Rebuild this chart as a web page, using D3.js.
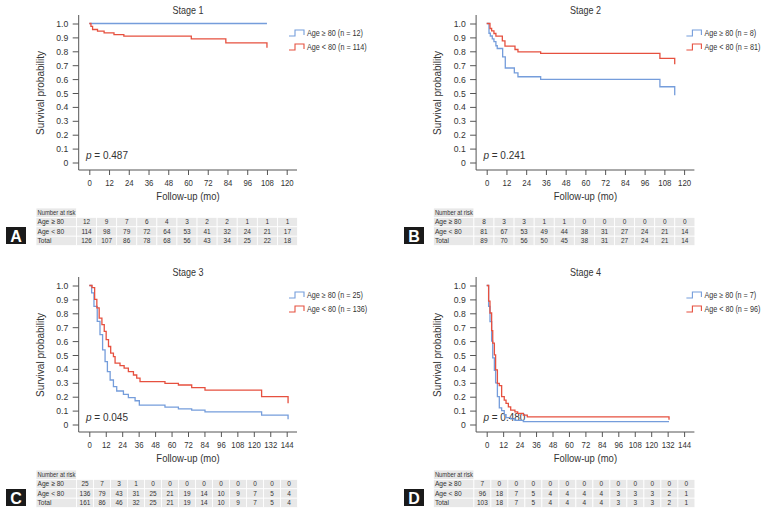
<!DOCTYPE html>
<html>
<head>
    <script src="https://d3js.org/d3.v7.min.js"></script>
    <style>
        body { margin: 0; background: #fff; }
        text { font-family: "Liberation Sans", Arial, sans-serif; fill: #333; }
    </style>
</head>
<body>
    <svg width="773" height="514"></svg>
    <script>
        // tick labels
        var xTicks120 = [0, 12, 24, 36, 48, 60, 72, 84, 96, 108, 120];
        var xTicks144 = [0, 12, 24, 36, 48, 60, 72, 84, 96, 108, 120, 132, 144];
        var yTicks = [0, 0.1, 0.2, 0.3, 0.4, 0.5, 0.6, 0.7, 0.8, 0.9, 1.0];
        var rowLabels = ["Age \u2265 80", "Age < 80", "Total"];

        // Kaplan-Meier steps: event times, survival after event, last follow-up
        var s1OldT = [], s1OldS = [], s1OldEnd = 108;
        var s1YoungT = [1, 2, 5, 9, 15, 21, 62, 83, 108];
        var s1YoungS = [0.98, 0.957, 0.945, 0.932, 0.92, 0.909, 0.89, 0.861, 0.825], s1YoungEnd = 108;

        var s2OldT = [1.4, 2.2, 3.4, 4.4, 5.6, 6.4, 9.7, 11.3, 16.8, 19, 32.8, 105.3, 114.3];
        var s2OldS = [0.93, 0.91, 0.89, 0.87, 0.84, 0.82, 0.76, 0.68, 0.645, 0.617, 0.598, 0.545, 0.483], s2OldEnd = 114.3;
        var s2YoungT = [2, 3, 4.4, 5.6, 9.5, 11.1, 17.2, 19, 32.8, 105.3, 114.3];
        var s2YoungS = [0.964, 0.947, 0.928, 0.909, 0.875, 0.837, 0.813, 0.796, 0.785, 0.749, 0.706], s2YoungEnd = 114.3;

        var s3OldT = [1.7, 3.4, 5.8, 7.8, 9.7, 11.5, 13.2, 15.2, 17.6, 20, 24.9, 28.5, 33.4, 36.5, 55.2, 65, 74.7, 84.4, 125.7, 145];
        var s3OldS = [0.947, 0.85, 0.742, 0.646, 0.537, 0.453, 0.38, 0.32, 0.272, 0.241, 0.217, 0.193, 0.171, 0.14, 0.125, 0.113, 0.103, 0.091, 0.067, 0.038], s3OldEnd = 145;
        var s3YoungT = [2, 3.9, 5.5, 7.2, 9.2, 10.9, 12.3, 14, 15.6, 17.6, 18.8, 22.4, 25.4, 28.5, 32.2, 34.6, 37, 55.2, 65, 74.7, 84.4, 125.7, 145];
        var s3YoungS = [0.984, 0.9, 0.839, 0.766, 0.718, 0.67, 0.61, 0.561, 0.513, 0.489, 0.441, 0.424, 0.405, 0.38, 0.356, 0.333, 0.308, 0.296, 0.284, 0.265, 0.248, 0.2, 0.152], s3YoungEnd = 145;

        var s4OldT = [1.4, 2.4, 3.6, 4.4, 5.6, 6.5, 7.8, 9.2, 10.9, 12.8, 14.1, 17.5, 20.6, 26.7];
        var s4OldS = [0.85, 0.74, 0.6, 0.48, 0.39, 0.3, 0.2, 0.12, 0.1, 0.07, 0.05, 0.04, 0.03, 0.02], s4OldEnd = 133;
        var s4YoungT = [1.4, 2.4, 3.6, 4.4, 5.6, 6.5, 7.8, 9.2, 10.9, 12.8, 14.1, 15.8, 17.5, 20.6, 22.6, 26.7, 29.6, 133];
        var s4YoungS = [0.887, 0.802, 0.675, 0.585, 0.501, 0.393, 0.296, 0.279, 0.2, 0.176, 0.152, 0.127, 0.103, 0.091, 0.08, 0.067, 0.055, 0.035], s4YoungEnd = 133;

        // number at risk
        var risk1 = [[12, 9, 7, 6, 4, 3, 2, 2, 1, 1, 1],
                     [114, 98, 79, 72, 64, 53, 41, 32, 24, 21, 17],
                     [126, 107, 86, 78, 68, 56, 43, 34, 25, 22, 18]];
        var risk2 = [[8, 3, 3, 1, 1, 0, 0, 0, 0, 0, 0],
                     [81, 67, 53, 49, 44, 38, 31, 27, 24, 21, 14],
                     [89, 70, 56, 50, 45, 38, 31, 27, 24, 21, 14]];
        var risk3 = [[25, 7, 3, 1, 0, 0, 0, 0, 0, 0, 0, 0, 0],
                     [136, 79, 43, 31, 25, 21, 19, 14, 10, 9, 7, 5, 4],
                     [161, 86, 46, 32, 25, 21, 19, 14, 10, 9, 7, 5, 4]];
        var risk4 = [[7, 0, 0, 0, 0, 0, 0, 0, 0, 0, 0, 0, 0],
                     [96, 18, 7, 5, 4, 4, 4, 4, 3, 3, 3, 2, 1],
                     [103, 18, 7, 5, 4, 4, 4, 4, 3, 3, 3, 2, 1]];

        var blue = "#759ddb", red = "#e6503f";

        var panels = [
            {letter: "A", title: "Stage 1", dx: 0, dy: 0, xmax: 120, ticks: xTicks120, p: "0.487",
             n: [12, 114], risk: risk1,
             curves: [[s1OldT, s1OldS, s1OldEnd, blue], [s1YoungT, s1YoungS, s1YoungEnd, red]]},
            {letter: "B", title: "Stage 2", dx: 397.4, dy: 0, xmax: 120, ticks: xTicks120, p: "0.241",
             n: [8, 81], risk: risk2,
             curves: [[s2OldT, s2OldS, s2OldEnd, blue], [s2YoungT, s2YoungS, s2YoungEnd, red]]},
            {letter: "C", title: "Stage 3", dx: 0, dy: 262, xmax: 144, ticks: xTicks144, p: "0.045",
             n: [25, 136], risk: risk3,
             curves: [[s3OldT, s3OldS, s3OldEnd, blue], [s3YoungT, s3YoungS, s3YoungEnd, red]]},
            {letter: "D", title: "Stage 4", dx: 397.4, dy: 262, xmax: 144, ticks: xTicks144, p: "0.480",
             n: [7, 96], risk: risk4,
             curves: [[s4OldT, s4OldS, s4OldEnd, blue], [s4YoungT, s4YoungS, s4YoungEnd, red]]}
        ];

        // narrow a text horizontally around its own x (the source uses a condensed face)
        function squeeze(sel, k) {
            sel.each(function() {
                var t = d3.select(this), x = +t.attr("x") || 0;
                t.attr("transform", "translate(" + (x * (1 - k)) + ",0) scale(" + k + ",1)");
            });
        }

        var svg = d3.select("svg");

        panels.forEach(function(p) {
            var g = svg.append("g").attr("transform", "translate(" + p.dx + "," + p.dy + ")");
            var x = d3.scaleLinear().domain([0, p.xmax]).range([89.3, 286.7]);
            var y = d3.scaleLinear().domain([0, 1]).range([162.5, 23.5]);
            var axisY = 78.7, baseY = 170;

            // axes
            var xa = g.append("g").attr("transform", "translate(0," + baseY + ")")
                .call(d3.axisBottom(x).tickValues(p.ticks).tickSize(5).tickPadding(4.5));
            xa.select(".domain").remove();
            xa.selectAll("text").style("font-size", "9.2px").attr("fill", "#333").call(squeeze, 0.85);
            var ya = g.append("g").attr("transform", "translate(" + axisY + ",0)")
                .call(d3.axisLeft(y).tickValues(yTicks).tickSize(6).tickPadding(4.4)
                    .tickFormat(function(d) { return d === 0 ? "0" : d.toFixed(1); }));
            ya.select(".domain").remove();
            ya.selectAll("text").style("font-size", "9.6px").attr("fill", "#333").call(squeeze, 0.9);
            g.selectAll(".tick line").attr("stroke", "#555");
            g.append("line").attr("x1", axisY).attr("x2", 297).attr("y1", baseY).attr("y2", baseY)
                .attr("stroke", "#555").attr("stroke-width", 1);
            g.append("line").attr("x1", axisY).attr("x2", axisY).attr("y1", 15).attr("y2", baseY)
                .attr("stroke", "#555").attr("stroke-width", 1);

            // titles
            g.append("text").attr("x", 188).attr("y", 14.5).attr("text-anchor", "middle")
                .style("font-size", "10px").text(p.title).call(squeeze, 0.9);
            g.append("text").attr("x", 188).attr("y", 200.5).attr("text-anchor", "middle")
                .style("font-size", "10px").text("Follow-up (mo)").call(squeeze, 0.95);
            g.append("text").attr("transform", "translate(44,93) rotate(-90)").attr("text-anchor", "middle")
                .style("font-size", "10px").text("Survival probability");
            var pt = g.append("text").attr("x", 86).attr("y", 158.5).style("font-size", "10px");
            pt.append("tspan").style("font-style", "italic").text("p");
            pt.append("tspan").text(" = " + p.p);

            // curves
            var line = d3.line().curve(d3.curveStepAfter)
                .x(function(d) { return x(d[0]); }).y(function(d) { return y(d[1]); });
            p.curves.forEach(function(c) {
                var pts = [[0, 1]];
                c[0].forEach(function(t, i) { pts.push([t, c[1][i]]); });
                pts.push([c[2], pts[pts.length - 1][1]]);
                g.append("path").attr("d", line(pts)).attr("fill", "none")
                    .attr("stroke", c[3]).attr("stroke-width", 1.3);
            });

            // legend
            var labels = ["Age \u2265 80 (n = " + p.n[0] + ")", "Age < 80 (n = " + p.n[1] + ")"];
            [blue, red].forEach(function(col, i) {
                var ly = 30 + i * 14;
                g.append("path").attr("d", "M289," + (ly + 6) + "H295V" + ly + "H304V" + (ly + 5))
                    .attr("fill", "none").attr("stroke", col).attr("stroke-width", 1.1);
                g.append("text").attr("x", 307).attr("y", ly + 6).style("font-size", "8.3px")
                    .attr("fill", "#444").text(labels[i]).call(squeeze, 0.87);
            });

            // number-at-risk table
            var ncol = p.risk[0].length;
            var cx = d3.scaleLinear().domain([0, ncol]).range([76.5, 297.5]);
            var rowTop = [208, 217.4, 226.8, 236.2], rowH = 9.4;
            var tg = g.append("g");
            tg.append("rect").attr("x", 36).attr("y", rowTop[0]).attr("width", 40.5).attr("height", rowH)
                .attr("fill", "#e8e8e8").attr("stroke", "#fff").attr("stroke-width", 0.8);
            tg.append("text").attr("x", 37.5).attr("y", rowTop[0] + 6.8).style("font-size", "6.5px")
                .text("Number at risk").call(squeeze, 0.9);
            p.risk.forEach(function(row, r) {
                var top = rowTop[r + 1];
                tg.append("rect").attr("x", 36).attr("y", top).attr("width", 40.5).attr("height", rowH)
                    .attr("fill", "#e8e8e8").attr("stroke", "#fff").attr("stroke-width", 0.8);
                tg.append("text").attr("x", 37.5).attr("y", top + 7).style("font-size", "7.4px")
                    .text(rowLabels[r]).call(squeeze, 0.9);
                tg.selectAll(null).data(row).enter().append("rect")
                    .attr("x", function(d, i) { return cx(i); }).attr("y", top)
                    .attr("width", cx(1) - cx(0)).attr("height", rowH)
                    .attr("fill", "#e8e8e8").attr("stroke", "#fff").attr("stroke-width", 0.8);
                tg.selectAll(null).data(row).enter().append("text")
                    .attr("x", function(d, i) { return cx(i + 0.5); }).attr("y", top + 7)
                    .attr("text-anchor", "middle").style("font-size", "7.6px").text(function(d) { return d; })
                    .call(squeeze, 0.85);
            });

            // panel letter
            g.append("rect").attr("x", 6 + (p.dx ? 0.6 : 0)).attr("y", 227).attr("width", 20).attr("height", 17)
                .attr("fill", "#1a1a1a");
            g.append("text").attr("x", 16 + (p.dx ? 0.6 : 0)).attr("y", 241.5).attr("text-anchor", "middle")
                .style("font-weight", "bold").style("font-size", "16px").style("fill", "#fff").text(p.letter);
        });
    </script>
</body>
</html>
